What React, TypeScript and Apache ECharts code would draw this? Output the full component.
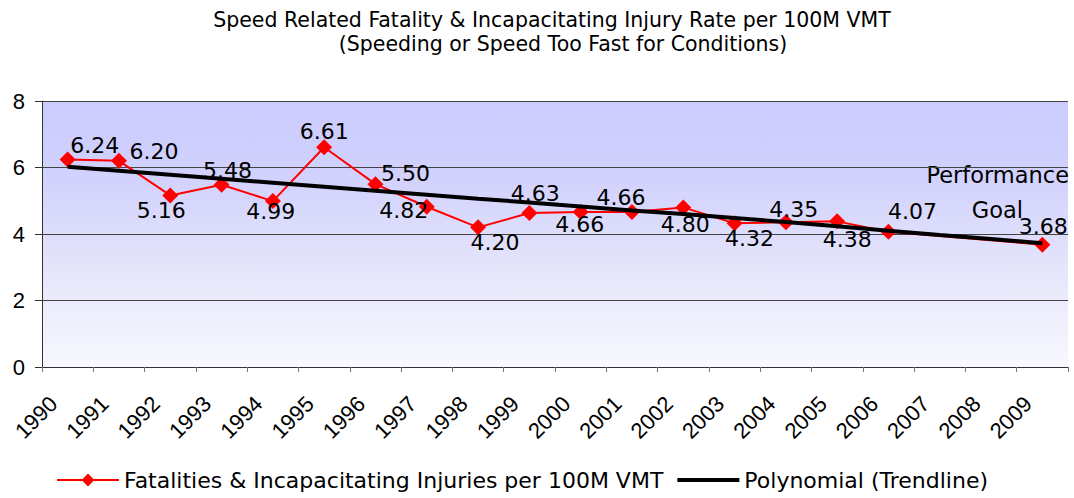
import React, { useEffect, useRef } from "react";
import * as echarts from "echarts";

const years = ["1990", "1991", "1992", "1993", "1994", "1995", "1996", "1997", "1998", "1999", "2000", "2001", "2002", "2003", "2004", "2005", "2006", "2007", "2008", "2009"];
const rates: (number | null)[] = [6.24, 6.2, 5.16, 5.48, 4.99, 6.61, 5.5, 4.82, 4.2, 4.63, 4.66, 4.66, 4.8, 4.32, 4.35, 4.38, 4.07, null, null, 3.68];
const trend = [6.02, 5.9, 5.78, 5.66, 5.54, 5.42, 5.3, 5.18, 5.06, 4.95, 4.83, 4.71, 4.6, 4.48, 4.36, 4.23, 4.1, 3.97, 3.85, 3.72];
const yTicks = [0, 2, 4, 6, 8];
// label offsets (styling only) relative to each point
const labelOffsets = [[27, -14], [35, -9], [-9, 15], [6, -14], [-2, 10], [0, -16], [30, -11], [-23, 4], [17, 15], [6, -20], [-1, 12], [-11, -15], [2, 17], [15, 15], [8, -13], [10, 18], [24, -20], [0, 0], [0, 0], [1, -18]];

const seriesNames = ["Fatalities & Incapacitating Injuries per 100M VMT", "Polynomial (Trendline)"];
const titleLines = ["Speed Related Fatality & Incapacitating Injury Rate per 100M VMT", "(Speeding or Speed Too Fast for Conditions)"];
const goalText = ["Performance", "Goal"];

const FONT = "'Liberation Sans', Arial, sans-serif";
const WIDE = "'DejaVu Sans', 'Liberation Sans', sans-serif";

export default function App() {
  const ref = useRef<HTMLDivElement>(null);
  useEffect(() => {
    if (!ref.current) return;
    const chart = echarts.init(ref.current, null, { renderer: "svg" });
    const titleStyle = { fontFamily: WIDE, fontSize: 20.5, fontWeight: "normal", color: "#000", lineHeight: 24 };
    chart.setOption({
      animation: false,
      textStyle: { fontFamily: FONT },
      title: [
        { text: titleLines[0], left: 552, top: 8, padding: 0, textAlign: "center", textStyle: titleStyle },
        { text: titleLines[1], left: 563, top: 32, padding: 0, textAlign: "center", textStyle: titleStyle },
      ],
      legend: {
        data: [
          { name: seriesNames[0], lineStyle: { width: 2 } },
          { name: seriesNames[1], itemStyle: { opacity: 0 }, lineStyle: { width: 4 } },
        ],
        left: 51,
        top: 464,
        itemWidth: 62,
        itemHeight: 16,
        itemGap: 12,
        textStyle: { fontFamily: WIDE, fontSize: 22, color: "#000" },
      },
      grid: {
        left: 42,
        right: 6,
        top: 101,
        bottom: 131,
        show: true,
        borderWidth: 0,
        backgroundColor: new echarts.graphic.LinearGradient(0, 0, 0, 1, [
          { offset: 0, color: "#cbcbff" },
          { offset: 0.3, color: "#d2d2fd" },
          { offset: 0.65, color: "#e6e6fb" },
          { offset: 1, color: "#f8f8ff" },
        ]),
      },
      xAxis: {
        type: "category",
        data: years,
        boundaryGap: true,
        axisLine: { lineStyle: { color: "#333", width: 1 } },
        axisTick: { show: true, length: 5, lineStyle: { color: "#777" } },
        axisLabel: {
          interval: 0,
          rotate: 45,
          margin: 19,
          padding: [0, 20, 0, 0],
          fontSize: 22,
          color: "#000",
          fontFamily: FONT,
        },
      },
      yAxis: {
        type: "value",
        min: yTicks[0],
        max: yTicks[yTicks.length - 1],
        interval: 2,
        axisLine: { show: true, lineStyle: { color: "#333", width: 1 } },
        axisTick: { show: true, length: 7, lineStyle: { color: "#333" } },
        axisLabel: { fontSize: 22, color: "#000", margin: 17, fontFamily: FONT },
        splitLine: { show: true, lineStyle: { color: "#444", width: 1 } },
      },
      series: [
        {
          name: seriesNames[0],
          type: "line",
          data: rates.map((v, i) => ({ value: v, label: { offset: labelOffsets[i] } })),
          connectNulls: true,
          symbol: "diamond",
          symbolSize: 16,
          itemStyle: { color: "#ff0000" },
          lineStyle: { color: "#ff0000", width: 2 },
          label: {
            show: true,
            position: "inside",
            fontSize: 22,
            color: "#000",
            fontFamily: WIDE,
            formatter: (p: any) => (p.value == null ? "" : Number(p.value).toFixed(2)),
          },
          z: 2,
        },
        {
          name: seriesNames[1],
          type: "line",
          data: trend,
          symbol: "none",
          lineStyle: { color: "#000", width: 4 },
          itemStyle: { color: "#000" },
          z: 3,
        },
      ],
      graphic: [
        {
          type: "text",
          x: 1069,
          y: 175,
          style: { text: goalText[0], fontSize: 22.5, fontFamily: WIDE, fill: "#000", align: "right", verticalAlign: "middle" },
        },
        {
          type: "text",
          x: 1023,
          y: 210,
          style: { text: goalText[1], fontSize: 22.5, fontFamily: WIDE, fill: "#000", align: "right", verticalAlign: "middle" },
        },
      ],
    });
    return () => chart.dispose();
  }, []);
  return <div ref={ref} style={{ position: "absolute", left: 0, top: 0, width: 1074, height: 498 }} />;
}
